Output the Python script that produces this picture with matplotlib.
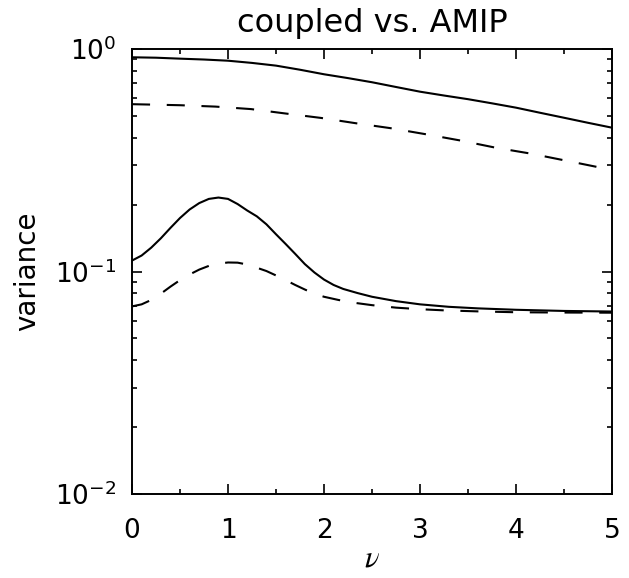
import numpy as np
import matplotlib
matplotlib.use("Agg")
import matplotlib.pyplot as plt
from matplotlib.ticker import MultipleLocator, LogLocator

plt.rcParams["font.family"] = "DejaVu Sans"
plt.rcParams["lines.scale_dashes"] = False

# coupled run, upper pair (solid)
nu_cpl_hi = [0.0, 0.25, 0.5, 0.75, 1.0, 1.25, 1.5, 1.75, 2.0, 2.25, 2.5, 2.75, 3.0,
             3.25, 3.5, 3.75, 4.0, 4.25, 4.5, 4.75, 5.0]
var_cpl_hi = [0.918, 0.914, 0.905, 0.897, 0.886, 0.866, 0.842, 0.807, 0.770, 0.740,
              0.709, 0.675, 0.643, 0.618, 0.595, 0.570, 0.545, 0.517, 0.491, 0.466, 0.443]

# AMIP run, upper pair (dashed)
nu_amip_hi = [0.0, 0.5, 0.87, 1.24, 1.6, 1.97, 2.33, 2.69, 3.06, 3.42, 3.79, 4.15, 4.52, 5.0]
var_amip_hi = [0.565, 0.559, 0.551, 0.537, 0.513, 0.490, 0.464, 0.441, 0.414, 0.388,
               0.360, 0.339, 0.315, 0.286]

# coupled run, lower pair (solid)
nu_cpl_lo = [0.0, 0.1, 0.2, 0.3, 0.4, 0.5, 0.6, 0.7, 0.8, 0.9, 1.0, 1.1, 1.2, 1.3, 1.4,
             1.5, 1.6, 1.7, 1.8, 1.9, 2.0, 2.1, 2.2, 2.35, 2.5, 2.75, 3.0, 3.3, 3.6,
             4.0, 4.5, 5.0]
var_cpl_lo = [0.112, 0.118, 0.128, 0.141, 0.157, 0.174, 0.190, 0.203, 0.212, 0.215,
              0.212, 0.201, 0.188, 0.177, 0.163, 0.147, 0.133, 0.120, 0.108, 0.099,
              0.092, 0.087, 0.0835, 0.0800, 0.0770, 0.0736, 0.0712, 0.0694, 0.0683,
              0.0673, 0.0665, 0.0661]

# AMIP run, lower pair (dashed)
nu_amip_lo = [0.0, 0.1, 0.2, 0.3, 0.4, 0.5, 0.6, 0.7, 0.8, 0.9, 1.0, 1.1, 1.2, 1.3, 1.4,
              1.5, 1.6, 1.7, 1.8, 1.9, 2.0, 2.15, 2.3, 2.5, 2.75, 3.0, 3.25, 3.6, 4.0,
              4.5, 5.0]
var_amip_lo = [0.0697, 0.0712, 0.0745, 0.0795, 0.0855, 0.0915, 0.0970, 0.1020, 0.1060,
               0.1085, 0.1098, 0.1096, 0.1075, 0.1040, 0.1005, 0.0960, 0.0915, 0.0870,
               0.0830, 0.0795, 0.0770, 0.0745, 0.0725, 0.0706, 0.0688, 0.0677, 0.0669,
               0.0662, 0.0656, 0.0654, 0.0653]

fig = plt.figure(figsize=(6.29, 5.78), dpi=100)
ax = fig.add_axes([0.2099, 0.1453, 0.7631, 0.7699])

lw = 1.5
dash = (13, 12)
ax.plot(nu_cpl_hi, var_cpl_hi, color="black", lw=lw)
ax.plot(nu_amip_hi, var_amip_hi, color="black", lw=lw, dashes=dash)
ax.plot(nu_cpl_lo, var_cpl_lo, color="black", lw=lw)
ax.plot(nu_amip_lo, var_amip_lo, color="black", lw=lw, dashes=dash)

ax.set_yscale("log")
ax.set_xlim(0, 5)
ax.set_ylim(0.01, 1.0)
ax.xaxis.set_major_locator(MultipleLocator(1))
ax.xaxis.set_minor_locator(MultipleLocator(0.5))
ax.yaxis.set_major_locator(LogLocator(base=10))
ax.yaxis.set_minor_locator(LogLocator(base=10, subs=np.arange(2, 10)))

for s in ax.spines.values():
    s.set_linewidth(1.4)
ax.tick_params(which="both", direction="in", top=True, right=True, width=1.2,
               labelsize=19)
ax.tick_params(which="major", length=7)
ax.tick_params(which="minor", length=3.5)
ax.tick_params(axis="x", which="major", pad=17)
ax.tick_params(axis="y", which="major", pad=11)

ax.set_title("coupled vs. AMIP", fontsize=23, pad=12)
ax.set_xlabel(r"$\nu$", fontsize=22, labelpad=0, math_fontfamily="stix")
ax.set_ylabel("variance", fontsize=20, labelpad=10)

fig.savefig("out.png", dpi=100)
